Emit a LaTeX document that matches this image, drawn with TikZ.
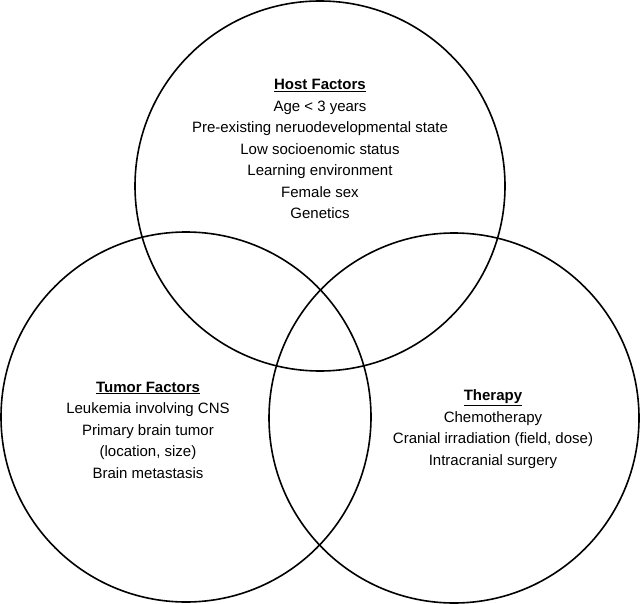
\documentclass[tikz,border=0pt]{standalone}
\usepackage{fontspec}
\setmainfont{Liberation Sans}
\begin{document}
\begin{tikzpicture}[x=1pt,y=-1pt,
  venn/.style={circle, draw=black, line width=1.6pt, minimum size=370pt, inner sep=0pt},
  label/.style={align=center, font=\fontsize{15}{21.5}\selectfont, text=black, inner sep=0pt}]
\useasboundingbox (0,0) rectangle (640,604);
\node[venn] (host) at (320,186) {};
\node[venn] (tumor) at (186,417) {};
\node[venn] (ther) at (454,418) {};
\node[label] (hostt) at (320,149) {\textbf{\underline{Host Factors}}\\Age < 3 years\\Pre-existing neruodevelopmental state\\Low socioenomic status\\Learning environment\\Female sex\\Genetics};
\node[label] (tumt) at (148,430) {\textbf{\underline{Tumor Factors}}\\Leukemia involving CNS\\Primary brain tumor\\(location, size)\\Brain metastasis};
\node[label] (thert) at (493,429) {\textbf{\underline{Therapy}}\\Chemotherapy\\Cranial irradiation (field, dose)\\Intracranial surgery};
\end{tikzpicture}
\end{document}
